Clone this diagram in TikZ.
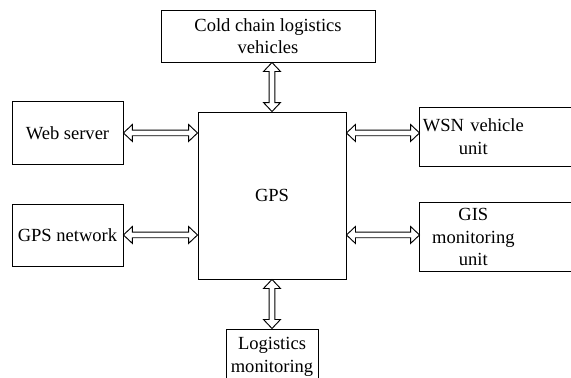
\documentclass[tikz,border=0pt]{standalone}
\usepackage{fontspec}
\setmainfont{Liberation Serif}
\usetikzlibrary{calc}

% hollow two-headed arrows between boxes
\newcommand{\hdarrow}[2]{\draw[link] (#1) -- ++(9,8.5) -- ++(0,-5.7) -- ($(#2)+(-9,2.8)$) -- ++(0,5.7) -- (#2) -- ++(-9,-8.5) -- ++(0,5.7) -- ($(#1)+(9,-2.8)$) -- ++(0,-5.7) -- cycle;}
\newcommand{\vdarrow}[2]{\draw[link] (#1) -- ++(8.5,9) -- ++(-5.7,0) -- ($(#2)+(2.8,-9)$) -- ++(5.7,0) -- (#2) -- ++(-8.5,-9) -- ++(5.7,0) -- ($(#1)+(-2.8,9)$) -- ++(-5.7,0) -- cycle;}

\begin{document}
\begin{tikzpicture}[x=0.75pt, y=-0.75pt]

        	\tikzstyle{box} = [draw, line width=0.7pt, inner sep=1pt, align=center, font=\fontsize{13.9}{17}\selectfont];
        	\tikzstyle{link} = [line width=0.7pt];

        	\useasboundingbox (0,0) rectangle (571,378);

        	\node[box, minimum width=111pt, minimum height=125.25pt] (gps) at (272,195.5) {GPS};
        	\node[box, above of=gps, node distance=119.6pt, xshift=-3pt, minimum width=160.5pt, minimum height=39pt] (cold) {Cold chain logistics\\vehicles};
        	\node[box, below of=gps, node distance=121.1pt, minimum width=69pt, minimum height=42pt] (logi) {Logistics\\monitoring};
        	\node[box, left of=gps, node distance=153.4pt, yshift=46.9pt, minimum width=83.25pt, minimum height=46.5pt] (web) {Web server};
        	\node[box, left of=gps, node distance=153.4pt, yshift=-29.6pt, minimum width=83.25pt, minimum height=46.5pt] (net) {GPS network};
        	\node[box, draw=none, right of=gps, node distance=151pt, yshift=43.9pt, text width=80pt, inner xsep=0pt, minimum height=43.5pt] (wsn) {WSN vehicle\\unit};
        	\node[box, draw=none, right of=gps, node distance=151pt, yshift=-31.1pt, text width=80pt, inner xsep=0pt, minimum height=51pt] (gis) {GIS\\monitoring\\unit};

        	% right boxes run off the page
        	\draw[link] ([xshift=120pt]wsn.north east) -- (wsn.north west) -- (wsn.south west) -- ([xshift=120pt]wsn.south east);
        	\draw[link] ([xshift=120pt]gis.north east) -- (gis.north west) -- (gis.south west) -- ([xshift=120pt]gis.south east);

        	\vdarrow{gps.north |- cold.south}{gps.north}
        	\vdarrow{gps.south}{gps.south |- logi.north}
        	\hdarrow{web.east}{web.east -| gps.west}
        	\hdarrow{net.east}{net.east -| gps.west}
        	\hdarrow{web.east -| gps.east}{web.east -| wsn.west}
        	\hdarrow{net.east -| gps.east}{net.east -| gis.west}

    	\end{tikzpicture}
\end{document}
